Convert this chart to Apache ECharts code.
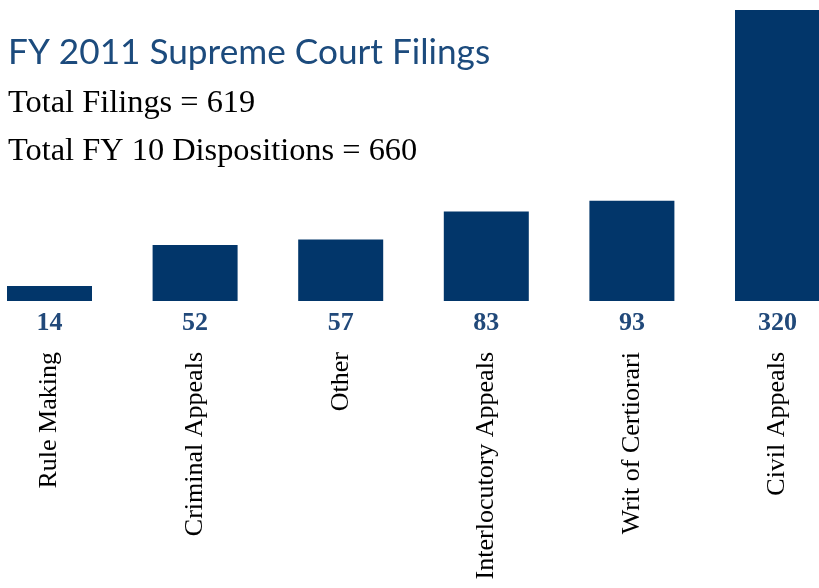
<!DOCTYPE html>
<html>
<head>
<meta charset="utf-8">
<script src="https://cdn.jsdelivr.net/npm/echarts@6/dist/echarts.min.js"></script>
<style>
  html, body { margin: 0; padding: 0; background: #fff; }
  #main { width: 819px; height: 588px; }
</style>
</head>
<body>
<div id="main"></div>
<script>
// 数据
const categories = ['Rule Making', 'Criminal Appeals', 'Other', 'Interlocutory Appeals', 'Writ of Certiorari', 'Civil Appeals'];
const filings = [14, 52, 57, 83, 93, 320];
const titleText = 'FY 2011 Supreme Court Filings';
const subLines = ['Total Filings = 619', 'Total FY 10 Dispositions = 660'];

const barColor = '#02366a';
const serif = '"Liberation Serif", serif';

const myChart = echarts.init(document.getElementById('main'));

const option = {
    animation: false,
    title: [
        {
            text: titleText,
            left: 3,
            top: 30,
            textStyle: { fontFamily: 'Lato', fontWeight: 'normal', fontSize: 35.2, color: '#1c4b7d' }
        },
        {
            text: subLines[0],
            left: 3,
            top: 82,
            textStyle: { fontFamily: serif, fontWeight: 'normal', fontSize: 32.4, color: '#000' }
        },
        {
            text: subLines[1],
            left: 3,
            top: 130,
            textStyle: { fontFamily: serif, fontWeight: 'normal', fontSize: 32.4, color: '#000' }
        }
    ],
    grid: {
        left: -23.3,
        right: -31.3,
        top: 10,
        bottom: 287,
        outerBoundsMode: 'none',
        containLabel: false
    },
    xAxis: {
        type: 'category',
        data: categories,
        axisLine: { show: false },
        axisTick: { show: false },
        axisLabel: {
            rotate: 90,
            margin: 51,
            interval: 0,
            fontFamily: serif,
            fontSize: 26,
            color: '#000'
        }
    },
    yAxis: {
        type: 'value',
        min: 0,
        max: 270,
        show: false,
        splitLine: { show: false }
    },
    series: [
        {
            type: 'bar',
            data: filings,
            barWidth: 85,
            clip: true,
            itemStyle: { color: barColor },
            label: {
                show: true,
                position: 'bottom',
                distance: 9,
                fontFamily: serif,
                fontWeight: 'bold',
                fontSize: 26,
                color: '#21497a'
            }
        }
    ]
};

myChart.setOption(option);
</script>
</body>
</html>
